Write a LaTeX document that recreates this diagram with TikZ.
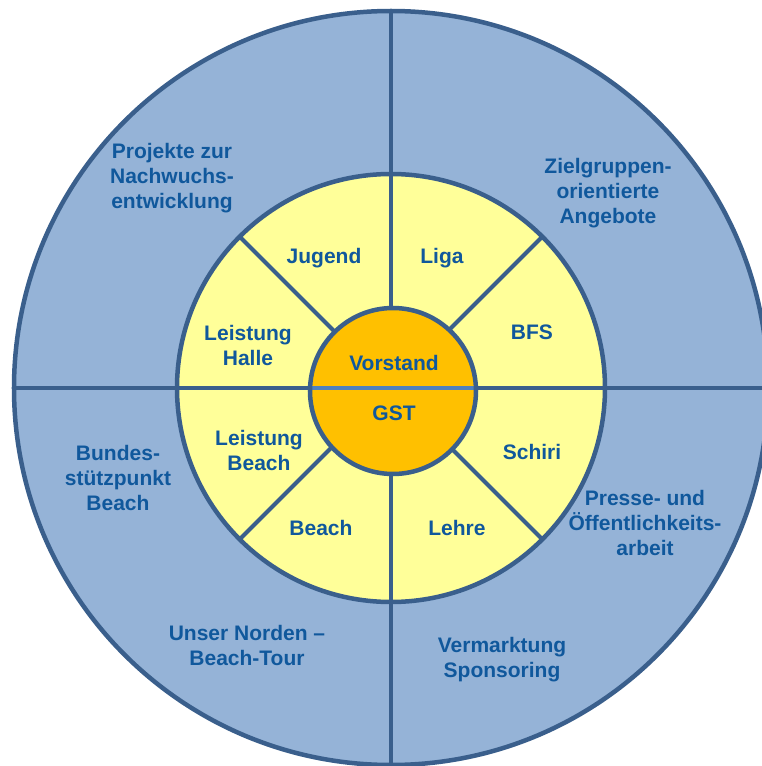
\documentclass[tikz,border=0pt]{standalone}
\usepackage{fontspec}
\setmainfont{Liberation Sans}
\usetikzlibrary{positioning}

\definecolor{ringblue}{RGB}{149,179,215}
\definecolor{edgeblue}{RGB}{58,95,140}
\definecolor{txtblue}{RGB}{16,88,156}
\definecolor{hubline}{RGB}{79,129,189}
\definecolor{paleyellow}{RGB}{255,255,153}
\definecolor{hubgold}{RGB}{255,192,0}

\begin{document}
\begin{tikzpicture}[x=1pt, y=1pt,
    lbl/.style={text=txtblue, font=\fontsize{21}{25}\selectfont\bfseries, align=center, inner sep=0pt},
    rim/.style={edgeblue, line width=4.5pt},
    spoke/.style={edgeblue, line width=4pt}]
    \useasboundingbox (-391,-378) rectangle (371,388);
    \coordinate (hub) at (0,0);

    % outer ring with its four quarters
    \fill[ringblue] (hub) circle (377);
    \draw[spoke] (0,377) -- (0,-377) (-377,0) -- (377,0);
    \draw[rim] (hub) circle (377);

    % yellow ring with eight parts
    \fill[paleyellow] (hub) circle (214);
    \foreach \a in {0,45,...,315}
        \draw[spoke] (hub) -- (\a:214);
    \draw[rim] (hub) circle (214);

    % centre
    \fill[hubgold] (2,-3) circle (83);
    \draw[hubline, line width=4pt] (-80,0) -- (84,0);
    \draw[rim] (2,-3) circle (83);

    \node[lbl] (projekte) at (-219,210) {Projekte zur\\Nachwuchs-\\entwicklung};
    \node[lbl] (ziel) at (217,195) {Zielgruppen-\\orientierte\\Angebote};
    \node[lbl] (bundes) at (-273,-90) {Bundes-\\stützpunkt\\Beach};
    \node[lbl] (presse) at (254,-135) {Presse- und\\Öffentlichkeits-\\arbeit};
    \node[lbl] (tour) at (-144,-257) {Unser Norden –\\Beach-Tour};
    \node[lbl] (sponsor) at (111,-272) {Vermarktung\\Sponsoring};

    \node[lbl] (jugend) at (-67,130) {Jugend};
    \node[lbl] (liga) at (51,130) {Liga};
    \node[lbl] (halle) at (-143,43) {Leistung\\Halle};
    \node[lbl] (bfs) at (141,56) {BFS};
    \node[lbl] (schiri) at (141,-64) {Schiri};
    \node[lbl] (lbeach) at (-132,-62) {Leistung\\Beach};
    \node[lbl] (beach) at (-70,-140) {Beach};
    \node[lbl] (lehre) at (66,-140) {Lehre};

    \node[lbl] (vorstand) at (3,25) {Vorstand};
    \node[lbl] (gst) at (3,-25) {GST};
\end{tikzpicture}
\end{document}
